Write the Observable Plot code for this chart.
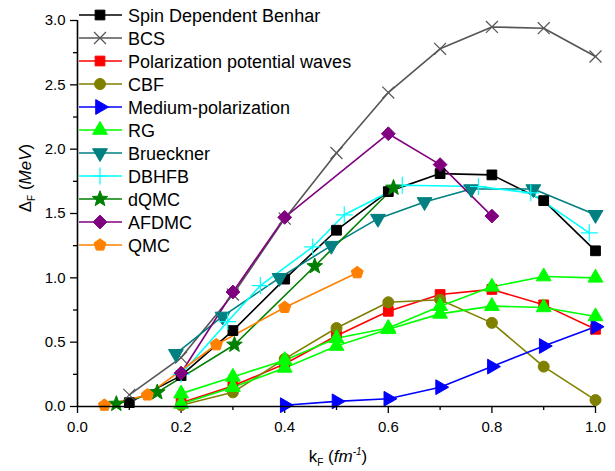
<!DOCTYPE html>
<html>
<head>
<meta charset="utf-8">
<script src="https://cdn.jsdelivr.net/npm/d3@7"></script>
<script src="https://cdn.jsdelivr.net/npm/@observablehq/plot@0.6"></script>
<style>
  html, body { margin: 0; padding: 0; background: #fff; }
  svg { font-family: "Liberation Sans", Arial, sans-serif; }
</style>
</head>
<body>
<div id="chart"></div>
<script>
// ---- data ----
const benharK = [0.1, 0.2, 0.3, 0.4, 0.5, 0.6, 0.7, 0.8, 0.9, 1.0];
const benharV = [0.03, 0.24, 0.59, 0.99, 1.37, 1.67, 1.81, 1.80, 1.60, 1.21];
const bcsK = [0.1, 0.2, 0.3, 0.4, 0.5, 0.6, 0.7, 0.8, 0.9, 1.0];
const bcsV = [0.09, 0.38, 0.87, 1.46, 1.97, 2.44, 2.78, 2.95, 2.94, 2.72];
const ppwK = [0.2, 0.3, 0.4, 0.5, 0.6, 0.7, 0.8, 0.9, 1.0];
const ppwV = [0.03, 0.16, 0.33, 0.55, 0.74, 0.87, 0.91, 0.79, 0.60];
const cbfK = [0.2, 0.3, 0.4, 0.5, 0.6, 0.7, 0.8, 0.9, 1.0];
const cbfV = [0.01, 0.11, 0.37, 0.61, 0.81, 0.83, 0.65, 0.31, 0.05];
const mpK = [0.4, 0.5, 0.6, 0.7, 0.8, 0.9, 1.0];
const mpV = [0.01, 0.04, 0.06, 0.15, 0.31, 0.47, 0.62];
const rgK = [0.2, 0.3, 0.4, 0.5, 0.6, 0.7, 0.8, 0.9, 1.0];
const rgV1 = [0.10, 0.23, 0.36, 0.53, 0.61, 0.78, 0.93, 1.01, 1.00];
const rgV2 = [0.02, 0.15, 0.30, 0.47, 0.60, 0.72, 0.78, 0.77, 0.70];
const bruecknerK = [0.19, 0.28, 0.39, 0.49, 0.58, 0.67, 0.76, 0.88, 1.0];
const bruecknerV = [0.41, 0.70, 1.00, 1.25, 1.46, 1.59, 1.69, 1.69, 1.49];
const dbhfbK = [0.2, 0.29, 0.353, 0.454, 0.515, 0.627, 0.774, 0.875, 0.988];
const dbhfbV = [0.25, 0.66, 0.94, 1.24, 1.49, 1.72, 1.71, 1.66, 1.35];
const dqmcK = [0.075, 0.154, 0.303, 0.458, 0.61];
const dqmcV = [0.02, 0.11, 0.48, 1.09, 1.70];
const afdmcK = [0.2, 0.3, 0.4, 0.6, 0.7, 0.8];
const afdmcV = [0.26, 0.89, 1.47, 2.12, 1.88, 1.48];
const qmcK = [0.052, 0.135, 0.268, 0.4, 0.54];
const qmcV = [0.01, 0.09, 0.48, 0.77, 1.04];

const xMajorTicks = [0, 0.2, 0.4, 0.6, 0.8, 1.0];
const xMinorTicks = [0.1, 0.3, 0.5, 0.7, 0.9];
const yMajorTicks = [0, 0.5, 1.0, 1.5, 2.0, 2.5, 3.0];
const yMinorTicks = [0.25, 0.75, 1.25, 1.75, 2.25, 2.75];

// ---- symbols ----
function poly(n, a0) {
  return {
    draw(ctx, size) {
      const R = Math.sqrt(size / (n / 2 * Math.sin(2 * Math.PI / n)));
      for (let i = 0; i < n; i++) {
        const a = a0 + 2 * Math.PI * i / n;
        const x = R * Math.cos(a), y = R * Math.sin(a);
        if (i === 0) ctx.moveTo(x, y); else ctx.lineTo(x, y);
      }
      ctx.closePath();
    }
  };
}
function star5() {
  return {
    draw(ctx, size) {
      const R = Math.sqrt(size / 1.4);
      const r = R * 0.42;
      for (let i = 0; i < 10; i++) {
        const a = -Math.PI / 2 + Math.PI * i / 5;
        const rr = i % 2 ? r : R;
        const x = rr * Math.cos(a), y = rr * Math.sin(a);
        if (i === 0) ctx.moveTo(x, y); else ctx.lineTo(x, y);
      }
      ctx.closePath();
    }
  };
}
const symSquare = poly(4, Math.PI / 4);
const symDiamond = poly(4, 0);
const symTriUp = poly(3, -Math.PI / 2);
const symTriDown = poly(3, Math.PI / 2);
const symTriRight = poly(3, 0);
const symPentagon = poly(5, -Math.PI / 2);
const symStar = star5();

const series = [
  {name: "Spin Dependent Benhar", k: benharK, v: benharV, color: "#000000", sym: symSquare, filled: true},
  {name: "BCS", k: bcsK, v: bcsV, color: "#555555", sym: d3.symbolTimes, filled: false},
  {name: "Polarization potential waves", k: ppwK, v: ppwV, color: "#ff0000", sym: symSquare, filled: true},
  {name: "CBF", k: cbfK, v: cbfV, color: "#808000", sym: d3.symbolCircle, filled: true},
  {name: "Medium-polarization", k: mpK, v: mpV, color: "#0000ff", sym: symTriRight, filled: true},
  {name: "RG", k: rgK, v: rgV1, color: "#00ff00", sym: symTriUp, filled: true},
  {name: "Brueckner", k: bruecknerK, v: bruecknerV, color: "#008080", sym: symTriDown, filled: true},
  {name: "DBHFB", k: dbhfbK, v: dbhfbV, color: "#00ffff", sym: d3.symbolPlus, filled: false},
  {name: "dQMC", k: dqmcK, v: dqmcV, color: "#008000", sym: symStar, filled: true},
  {name: "AFDMC", k: afdmcK, v: afdmcV, color: "#800080", sym: symDiamond, filled: true},
  {name: "QMC", k: qmcK, v: qmcV, color: "#ff8000", sym: symPentagon, filled: true}
];
const extra = [
  {name: "RG (2)", k: rgK, v: rgV2, color: "#00ff00", sym: symTriUp, filled: true}
];

const marks = [];
for (const s of [...series, ...extra]) {
  const data = s.k.map((k, i) => ({k, v: s.v[i]}));
  marks.push(Plot.line(data, {x: "k", y: "v", stroke: s.color, strokeWidth: 1.6}));
}
for (const s of [...series, ...extra]) {
  const data = s.k.map((k, i) => ({k, v: s.v[i]}));
  marks.push(Plot.dot(data, {
    x: "k", y: "v", symbol: s.sym, r: 5.5,
    fill: s.filled ? s.color : "none", stroke: s.color, strokeWidth: s.filled ? 1 : 1.2
  }));
}

const svg = Plot.plot({
  width: 615, height: 471,
  marginLeft: 77, marginRight: 20, marginTop: 20, marginBottom: 65,
  style: {fontFamily: "'Liberation Sans', Arial, sans-serif", fontSize: "15px", background: "#fff", color: "#000"},
  x: {domain: [0, 1]},
  y: {domain: [0, 3]},
  marks: [
    Plot.axisX(xMajorTicks, {tickSize: 7, tickPadding: 8, tickFormat: d3.format(".1f"), label: null, strokeWidth: 1.3}),
    Plot.axisX(xMinorTicks, {tickSize: 4, tickFormat: () => "", label: null, strokeWidth: 1.3}),
    Plot.axisY(yMajorTicks, {tickSize: 7, tickPadding: 5, tickFormat: d3.format(".1f"), label: null, strokeWidth: 1.3}),
    Plot.axisY(yMinorTicks, {tickSize: 4, tickFormat: () => "", label: null, strokeWidth: 1.3}),
    ...marks,
    Plot.ruleY([0], {stroke: "#000", strokeWidth: 1.6}),
    Plot.ruleX([0], {stroke: "#000", strokeWidth: 1.6})
  ]
});

const s = d3.select(svg);
// axis titles
const yl = s.append("text")
  .attr("transform", "translate(31,178) rotate(-90)")
  .attr("text-anchor", "middle")
  .style("font-size", "17px").attr("fill", "#000");
yl.append("tspan").text("\u0394");
yl.append("tspan").attr("dy", 4).style("font-size", "10px").text("F");
yl.append("tspan").attr("dy", -4).text(" (");
yl.append("tspan").style("font-style", "italic").text("MeV");
yl.append("tspan").text(")");

const xl = s.append("text")
  .attr("transform", "translate(338,462)")
  .attr("text-anchor", "middle")
  .style("font-size", "17px").attr("fill", "#000");
xl.append("tspan").text("k");
xl.append("tspan").attr("dy", 4).style("font-size", "10px").text("F");
xl.append("tspan").attr("dy", -4).text(" (");
xl.append("tspan").style("font-style", "italic").text("fm");
xl.append("tspan").attr("dy", -7).style("font-size", "10px").style("font-style", "italic").text("-1");
xl.append("tspan").attr("dy", 7).text(")");

// legend
const lg = s.append("g").attr("text-anchor", "start");
series.forEach((d, i) => {
  const y = 15 + i * 23;
  const g = lg.append("g");
  g.append("line").attr("x1", 79).attr("x2", 122).attr("y1", y).attr("y2", y)
    .attr("stroke", d.color).attr("stroke-width", 1.6);
  g.append("path").attr("transform", `translate(100,${y})`)
    .attr("d", d3.symbol().type(d.sym).size(95)())
    .attr("fill", d.filled ? d.color : "none").attr("stroke", d.color).attr("stroke-width", d.filled ? 1 : 1.2);
  g.append("text").attr("x", 128).attr("y", y + 6.5).attr("text-anchor", "start")
    .style("font-size", "18px").attr("fill", "#000").text(d.name);
});

document.getElementById("chart").appendChild(svg);
</script>
</body>
</html>
